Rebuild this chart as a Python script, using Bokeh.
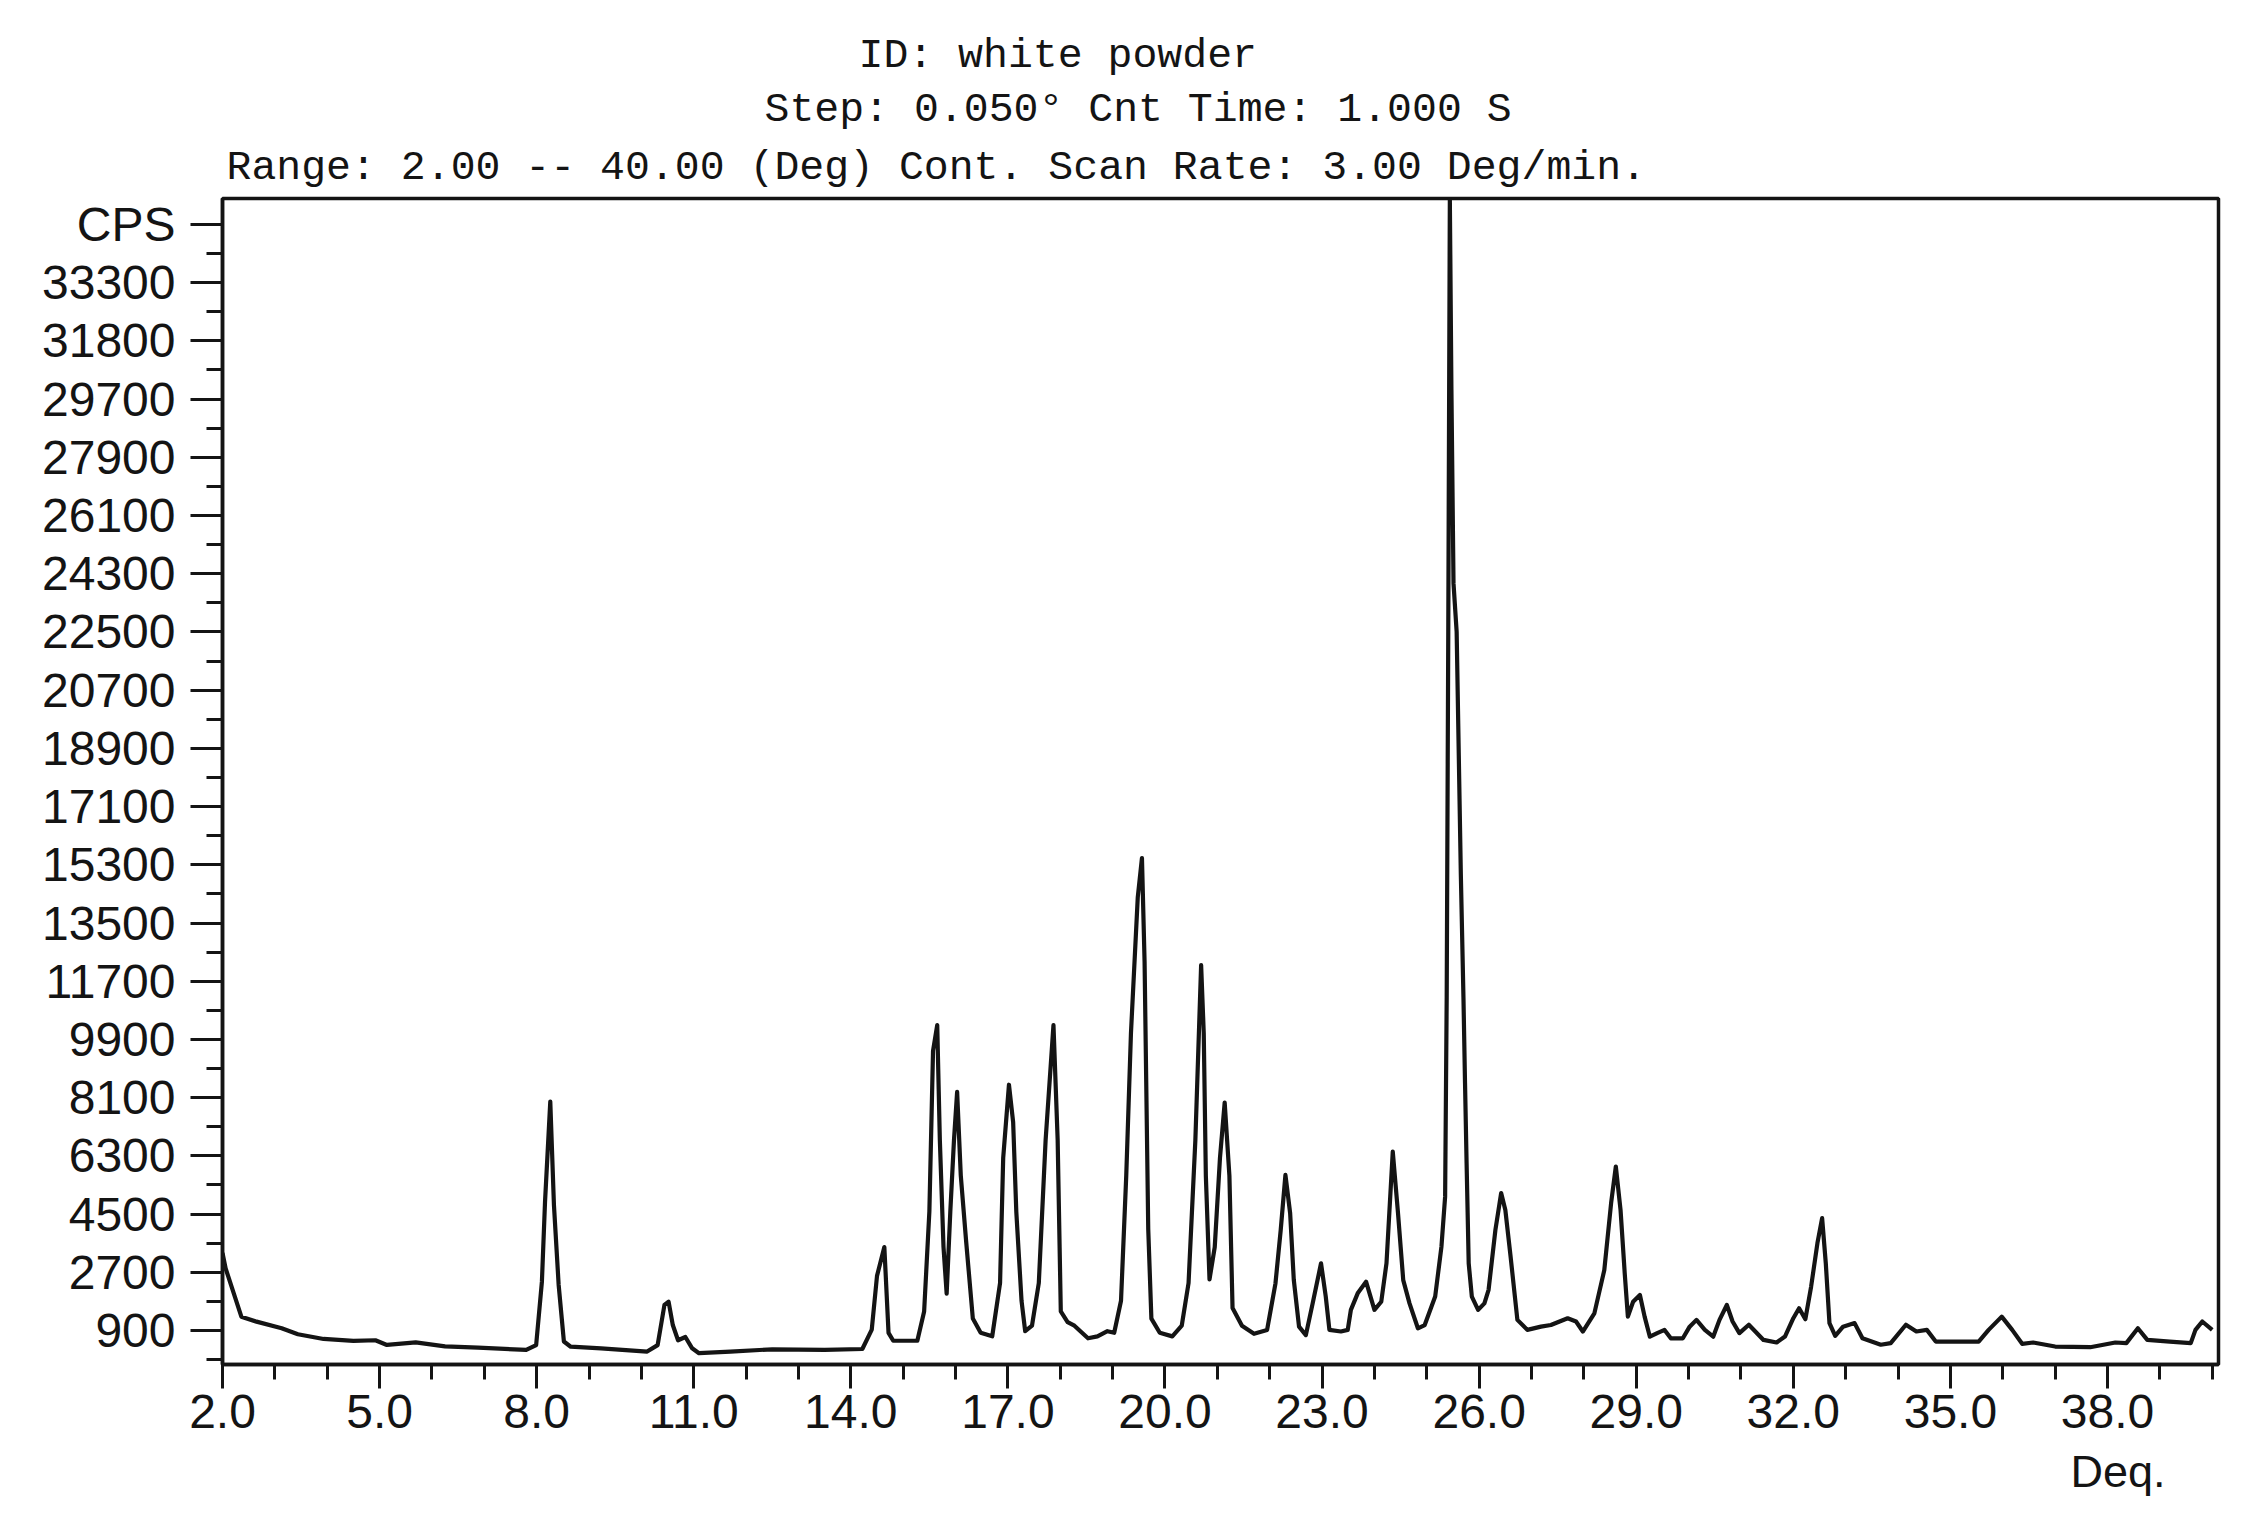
from bokeh.plotting import figure
from bokeh.models import FixedTicker, Range1d, Title
from bokeh.embed import file_html
from bokeh.resources import INLINE

# ---- data (2-theta in degrees, counts per second) ----
two_theta = [
    2.00, 2.06, 2.36, 2.65, 3.13, 3.44, 3.93, 4.50, 4.92, 5.14, 5.69, 6.25, 6.88, 7.80,
    7.99, 8.10, 8.16, 8.26, 8.33, 8.42, 8.52, 8.65, 9.23, 10.11, 10.31, 10.44, 10.52,
    10.60, 10.70, 10.84, 10.97, 11.10, 11.70, 12.50, 13.50, 14.22, 14.40, 14.50, 14.64,
    14.72, 14.81, 15.27, 15.40, 15.50, 15.57, 15.65, 15.70, 15.77, 15.83, 15.90, 15.97,
    16.03, 16.10, 16.20, 16.33, 16.48, 16.70, 16.85, 16.91, 17.02, 17.10, 17.16, 17.26,
    17.33, 17.46, 17.59, 17.72, 17.87, 17.95, 18.01, 18.14, 18.27, 18.53, 18.71, 18.90,
    19.03, 19.16, 19.26, 19.35, 19.48, 19.56, 19.61, 19.68, 19.74, 19.90, 20.14, 20.32,
    20.45, 20.58, 20.69, 20.74, 20.78, 20.85, 20.95, 21.05, 21.14, 21.23, 21.29, 21.47,
    21.70, 21.95, 22.11, 22.21, 22.30, 22.39, 22.46, 22.56, 22.69, 22.82, 22.98, 23.07,
    23.14, 23.36, 23.49, 23.55, 23.68, 23.84, 24.00, 24.13, 24.23, 24.35, 24.45, 24.55,
    24.67, 24.83, 24.96, 25.16, 25.28, 25.35, 25.38, 25.41, 25.44, 25.47, 25.51, 25.57,
    25.65, 25.70, 25.73, 25.76, 25.80, 25.86, 25.98, 26.10, 26.18, 26.31, 26.42, 26.50,
    26.60, 26.73, 26.92, 27.18, 27.37, 27.69, 27.85, 27.98, 28.20, 28.39, 28.52, 28.61,
    28.70, 28.78, 28.84, 28.94, 29.07, 29.16, 29.26, 29.40, 29.54, 29.66, 29.89, 30.02,
    30.15, 30.31, 30.47, 30.59, 30.73, 30.84, 30.97, 31.15, 31.43, 31.68, 31.84, 32.00,
    32.11, 32.23, 32.34, 32.46, 32.55, 32.62, 32.69, 32.80, 32.95, 33.17, 33.32, 33.67,
    33.86, 34.15, 34.35, 34.55, 34.72, 35.11, 35.54, 35.73, 35.98, 36.18, 36.37, 36.58,
    37.00, 37.67, 38.15, 38.36, 38.58, 38.76, 39.19, 39.59, 39.68, 39.81, 40.00,
]
cps = [
    3300, 2820, 1330, 1175, 970, 785, 640, 580, 600, 455, 535, 410, 370, 300,
    450, 2410, 4890, 7980, 4780, 2310, 560, 400, 350, 250, 450, 1690, 1790,
    1070, 600, 700, 350, 200, 250, 320, 300, 330, 930, 2590, 3480,
    830, 585, 585, 1490, 4580, 9550, 10345, 6790, 3480, 2040, 4580, 6790,
    8280, 5690, 3700, 1270, 830, 720, 2370, 6240, 8500, 7340, 4580, 1820,
    880, 1050, 2370, 6790, 10345, 6790, 1490, 1160, 1050, 660, 720, 880,
    830, 1820, 5690, 10100, 14300, 15510, 12310, 4030, 1270, 830, 720, 1050,
    2370, 6790, 12200, 10100, 5690, 2480, 3480, 6240, 7950, 5690, 1600, 1050,
    800, 920, 2360, 4010, 5710, 4530, 2460, 1020, 760, 1740, 2980, 1950,
    920, 870, 920, 1540, 2050, 2410, 1540, 1790, 2980, 6430, 4530, 2460,
    1740, 970, 1070, 1950, 3500, 5040, 11200, 22500, 35900, 30000, 24000, 22500,
    15000, 11200, 8550, 6070, 2980, 1950, 1540, 1740, 2160, 4010, 5150, 4630,
    3190, 1230, 920, 1020, 1070, 1280, 1180, 870, 1430, 2770, 4840, 5970,
    4630, 2670, 1330, 1790, 2000, 1330, 710, 820, 920, 660, 660, 1020,
    1230, 920, 710, 1230, 1690, 1180, 820, 1080, 610, 530, 715, 1280,
    1590, 1250, 2260, 3600, 4375, 2980, 1130, 735, 1020, 1130, 660, 460,
    510, 1080, 870, 920, 560, 560, 560, 920, 1330, 920, 490, 530,
    405, 385, 530, 510, 970, 610, 560, 510, 920, 1180, 920,
]

x_major_ticks = [2, 5, 8, 11, 14, 17, 20, 23, 26, 29, 32, 35, 38]
x_tick_labels = ["2.0", "5.0", "8.0", "11.0", "14.0", "17.0", "20.0", "23.0",
                 "26.0", "29.0", "32.0", "35.0", "38.0"]
x_minor_ticks = [3, 4, 6, 7, 9, 10, 12, 13, 15, 16, 18, 19, 21, 22, 24, 25, 27, 28,
                 30, 31, 33, 34, 36, 37, 39, 40]

y_major_ticks = [900, 2700, 4500, 6300, 8100, 9900, 11700, 13500, 15300, 17100,
                 18900, 20700, 22500, 24300, 26100, 27900, 29700, 31500, 33300, 35100]
y_tick_labels = ["900", "2700", "4500", "6300", "8100", "9900", "11700", "13500",
                 "15300", "17100", "18900", "20700", "22500", "24300", "26100",
                 "27900", "29700", "31800", "33300", "CPS"]
y_minor_ticks = [0, 1800, 3600, 5400, 7200, 9000, 10800, 12600, 14400, 16200, 18000,
                 19800, 21600, 23400, 25200, 27000, 28800, 30600, 32400, 34200]

title_lines = ["ID: white powder",
               "Step: 0.050\u00b0 Cnt Time: 1.000 S",
               "Range: 2.00 -- 40.00 (Deg) Cont. Scan Rate: 3.00 Deg/min."]
x_unit_label = "Deq."

# ---- layout (page pixels) ----
W, H = 2240, 1518
BL, BR, BT, BB = 222, 22, 198, 154
INK = "#141414"

p = figure(width=W, height=H, output_backend="svg", toolbar_location=None,
           x_range=Range1d(2.0, 40.12), y_range=Range1d(-150, 35900),
           min_border_left=BL, min_border_right=BR, min_border_top=BT,
           min_border_bottom=BB, background_fill_color="white",
           border_fill_color="white")
p.grid.visible = False
p.outline_line_color = INK
p.outline_line_width = 3.5

p.line(two_theta, cps, line_color=INK, line_width=4.2, line_join="round")

LFONT = "Liberation Sans"
TFONT = "Liberation Mono"

p.xaxis.ticker = FixedTicker(ticks=x_major_ticks, minor_ticks=x_minor_ticks)
p.xaxis.major_label_overrides = dict(zip(x_major_ticks, x_tick_labels))
p.yaxis.ticker = FixedTicker(ticks=y_major_ticks, minor_ticks=y_minor_ticks)
p.yaxis.major_label_overrides = dict(zip(y_major_ticks, y_tick_labels))

for ax in (p.xaxis[0], p.yaxis[0]):
    ax.axis_line_color = INK
    ax.axis_line_width = 3.5
    ax.major_tick_line_color = INK
    ax.major_tick_line_width = 3
    ax.minor_tick_line_color = INK
    ax.minor_tick_line_width = 3
    ax.major_tick_in = 0
    ax.minor_tick_in = 0
    ax.major_label_text_color = INK
    ax.major_label_text_font = LFONT
    ax.major_label_text_font_size = "48px"

p.xaxis.major_tick_out = 24
p.xaxis.minor_tick_out = 15
p.xaxis.major_label_standoff = 6
p.yaxis.major_tick_out = 32
p.yaxis.minor_tick_out = 16
p.yaxis.major_label_standoff = 15

# title lines: first added sits closest to the frame
title_offsets = [636, 542, 4]
title_standoffs = [7, 2, 16]
for i in (2, 1, 0):
    p.add_layout(Title(text=title_lines[i], align="left", offset=title_offsets[i],
                       standoff=title_standoffs[i], text_font=TFONT,
                       text_font_size="41.5px", text_font_style="normal",
                       text_color=INK), "above")

p.add_layout(Title(text=x_unit_label, align="left", offset=1848, standoff=26,
                   text_font=LFONT, text_font_size="45px", text_font_style="normal",
                   text_color=INK), "below")

open("out.html", "w").write(file_html(p, INLINE))
